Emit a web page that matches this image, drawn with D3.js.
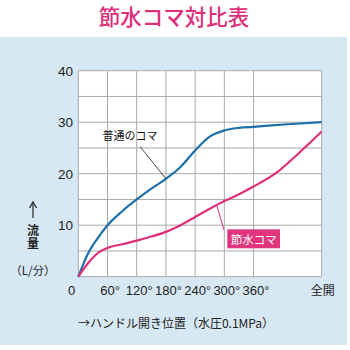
<!DOCTYPE html>
<html><head><meta charset="utf-8">
<script src="https://cdn.jsdelivr.net/npm/d3@7/dist/d3.min.js"></script>
<style>html,body{margin:0;padding:0;background:#fff;}svg{display:block;}</style>
</head><body>
<svg id="c" width="350" height="350"></svg>
<script>
// Data
const xTickValues = [0, 60, 120, 180, 240, 300, 360, 500];
const xTickLabels = ["0", "60°", "120°", "180°", "240°", "300°", "360°", "全開"];
const yTickValues = [10, 20, 30, 40];
const normalDeg = [0, 20, 40, 60, 90, 120, 150, 180, 210, 240, 270, 300, 330, 360, 430, 500];
const normalFlow = [0, 4.5, 7.5, 10.0, 12.7, 15.0, 17.1, 19.0, 21.3, 24.5, 27.2, 28.4, 28.9, 29.1, 29.6, 30.0];
const saveDeg = [0, 20, 40, 60, 90, 120, 150, 180, 210, 240, 270, 300, 330, 360, 410, 445, 500];
const saveFlow = [0, 2.6, 4.6, 5.6, 6.3, 7.0, 7.8, 8.7, 10.0, 11.6, 13.2, 14.7, 16.0, 17.5, 20.4, 23.3, 28.2];

const BLUE = "#1f6fab", PINK = "#de2f7a", BG = "#d7e8f5", GRID = "#a9a9a9";
const svg = d3.select("#c");
const x = d3.scaleLinear().domain([0, 500]).range([78.3, 321.7]);
const y = d3.scaleLinear().domain([0, 40]).range([276.7, 70.7]);

svg.append("rect").attr("x", 0).attr("y", 37).attr("width", 347).attr("height", 308).attr("fill", BG);
svg.append("text").attr("x", 174).attr("y", 25).attr("text-anchor", "middle")
  .attr("font-family", "'Noto Sans CJK JP'").attr("font-weight", 500).attr("font-size", 21.5)
  .attr("fill", PINK).text("節水コマ対比表");

svg.append("rect").attr("x", x(0)).attr("y", y(40)).attr("width", x(500) - x(0)).attr("height", y(0) - y(40))
  .attr("fill", "#fff");
const g = svg.append("g");
// gridlines
g.selectAll("line.h").data(d3.range(0, 41, 5)).join("line")
  .attr("x1", x(0)).attr("x2", x(500)).attr("y1", d => y(d)).attr("y2", d => y(d))
  .attr("stroke", GRID).attr("stroke-width", 1);
g.selectAll("line.v").data(xTickValues).join("line")
  .attr("x1", d => x(d)).attr("x2", d => x(d)).attr("y1", y(0)).attr("y2", y(40))
  .attr("stroke", GRID).attr("stroke-width", 1);

// y ticks
svg.selectAll("text.yt").data(yTickValues).join("text")
  .attr("x", 73).attr("y", d => y(d) + 5).attr("text-anchor", "end")
  .attr("font-family", "'Liberation Sans', Arial").attr("font-size", 13.5).attr("fill", "#222")
  .text(d => d);
// x ticks
svg.selectAll("text.xt").data(xTickValues.map((v, i) => ({v, l: xTickLabels[i]}))).join("text")
  .attr("x", (d, i) => i === 0 ? 71.7 : (i === 7 ? x(d.v) + 1 : x(d.v) + 2.5))
  .attr("y", 295).attr("text-anchor", "middle")
  .attr("font-family", (d, i) => i === 7 ? "'Noto Sans CJK JP'" : "'Liberation Sans', Arial")
  .attr("font-size", (d, i) => i === 7 ? 12 : 13).attr("fill", "#222")
  .text(d => d.l);

// y axis title
const yl = svg.append("g").attr("font-family", "'Noto Sans CJK JP'").attr("fill", "#222");
yl.append("line").attr("x1", 33).attr("x2", 33).attr("y1", 203).attr("y2", 218).attr("stroke", "#222").attr("stroke-width", 1.2);
yl.append("path").attr("d", "M29.5,208 L33,202 L36.5,208").attr("fill", "none").attr("stroke", "#222").attr("stroke-width", 1.2);
yl.append("text").attr("x", 33).attr("y", 224).attr("writing-mode", "vertical-rl")
  .attr("font-size", 12).attr("font-weight", 700).attr("letter-spacing", 1).text("流量");
yl.append("text").attr("x", 33).attr("y", 275).attr("text-anchor", "middle").attr("font-size", 11.5).text("（L/分）");

// x axis title
svg.append("text").attr("x", 176).attr("y", 328).attr("text-anchor", "middle")
  .attr("font-family", "'Noto Sans CJK JP'").attr("font-size", 12).attr("fill", "#222")
  .text("→ハンドル開き位置（水圧0.1MPa）");

// lines
const line = d3.line().x(d => x(d[0])).y(d => y(d[1])).curve(d3.curveMonotoneX);
svg.append("path").datum(normalDeg.map((d, i) => [d, normalFlow[i]])).attr("d", line)
  .attr("fill", "none").attr("stroke", BLUE).attr("stroke-width", 2.2);
svg.append("path").datum(saveDeg.map((d, i) => [d, saveFlow[i]])).attr("d", line)
  .attr("fill", "none").attr("stroke", PINK).attr("stroke-width", 2.2);

// annotations
svg.append("line").attr("x1", 140).attr("y1", 146.5).attr("x2", x(180)).attr("y2", y(19))
  .attr("stroke", "#333").attr("stroke-width", 0.9);
svg.append("text").attr("x", 130).attr("y", 139.5).attr("text-anchor", "middle")
  .attr("font-family", "'Noto Sans CJK JP'").attr("font-size", 11).attr("fill", "#111").text("普通のコマ");

svg.append("line").attr("x1", 217).attr("y1", 206).attr("x2", 224).attr("y2", 230)
  .attr("stroke", PINK).attr("stroke-width", 1);
svg.append("rect").attr("x", 227.3).attr("y", 229.3).attr("width", 52.7).attr("height", 19).attr("fill", "#e0357c");
svg.append("text").attr("x", 253.7).attr("y", 243.5).attr("text-anchor", "middle")
  .attr("font-family", "'Noto Sans CJK JP'").attr("font-size", 11.5).attr("fill", "#fff").text("節水コマ");
</script>
</body></html>
